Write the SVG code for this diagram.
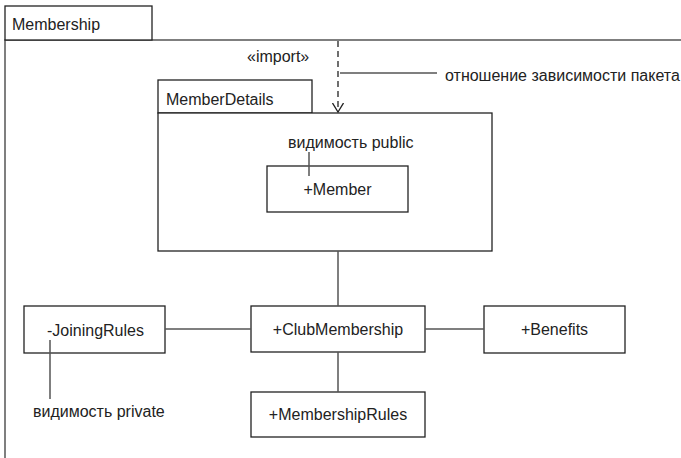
<svg xmlns="http://www.w3.org/2000/svg" width="681" height="458" viewBox="0 0 681 458">
<defs>
<style>
text{font-family:"Liberation Sans",Arial,sans-serif;font-size:16px;fill:#222}
.box{fill:#fff;stroke:#222;stroke-width:1.3}
.ln{fill:none;stroke:#555;stroke-width:1.5}
.c{text-anchor:middle}
</style>
<marker id="open" viewBox="0 0 10 12" refX="9" refY="6" markerWidth="10" markerHeight="12" markerUnits="userSpaceOnUse" orient="auto">
<path d="M0,0.5 L9,6 L0,11.5" fill="none" stroke="#222" stroke-width="1.3"/>
</marker>
</defs>
<rect width="681" height="458" fill="#fff"/>
<g id="membership">
<rect x="5" y="40" width="700" height="440" fill="none" stroke="#555" stroke-width="1.5"/>
<rect class="box" x="5" y="6" width="147" height="34"/>
<text x="12" y="30">Membership</text>
</g>
<g id="memberdetails">
<rect class="box" x="158" y="80" width="154" height="33"/>
<text x="166" y="105">MemberDetails</text>
<rect class="box" x="158" y="113" width="334" height="138"/>
</g>
<g id="member">
<rect class="box" x="267" y="166" width="141" height="46"/>
<text class="c" x="337.5" y="195">+Member</text>
</g>
<g id="clubmembership">
<rect class="box" x="251" y="306" width="174" height="46"/>
<text class="c" x="338" y="335">+ClubMembership</text>
</g>
<g id="joiningrules">
<rect class="box" x="24" y="306" width="141" height="47"/>
<text x="47" y="336">-JoiningRules</text>
</g>
<g id="benefits">
<rect class="box" x="484" y="306" width="141" height="47"/>
<text class="c" x="554.5" y="335">+Benefits</text>
</g>
<g id="membershiprules">
<rect class="box" x="251" y="392" width="174" height="45"/>
<text class="c" x="338" y="420">+MembershipRules</text>
</g>
<g id="labels">
<text x="247" y="62">«import»</text>
<text x="445" y="81">отношение зависимости пакета</text>
<text x="288" y="148">видимость public</text>
<text x="33" y="417">видимость private</text>
</g>
<g id="connectors">
<line x1="338" y1="41" x2="338" y2="112" stroke="#222" stroke-width="1.3" stroke-dasharray="6,4" marker-end="url(#open)"/>
<line class="ln" x1="340" y1="73" x2="437" y2="73"/>
<line class="ln" x1="309" y1="152" x2="309" y2="176" stroke="#222"/>
<line class="ln" x1="338" y1="251" x2="338" y2="306"/>
<line class="ln" x1="165" y1="329" x2="251" y2="329"/>
<line class="ln" x1="425" y1="329" x2="484" y2="329"/>
<line class="ln" x1="338" y1="352" x2="338" y2="392"/>
<line class="ln" x1="50" y1="340" x2="50" y2="399" stroke="#222"/>
</g>
</svg>
